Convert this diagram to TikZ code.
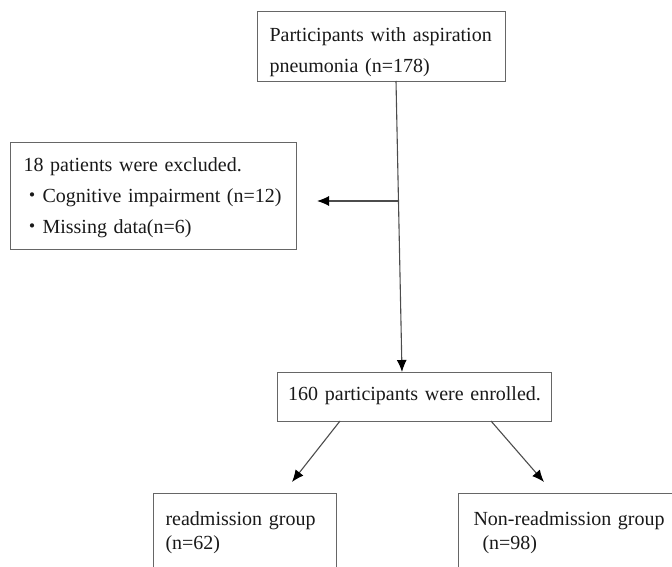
\documentclass[tikz,border=0pt]{standalone}
\usepackage{fontspec}
\setmainfont{Liberation Serif}
\newfontfamily\cjk{Noto Sans CJK JP}
\usetikzlibrary{arrows.meta}

\begin{document}
\begin{tikzpicture}[x=1pt,y=1pt]
			\tikzstyle{every node}+=[inner ysep=0pt, anchor=north west, text=black!90]
			\tikzstyle{box}=[draw=black!60, line width=1.1pt, align=left, font=\fontsize{20}{31}\selectfont]
			\tikzstyle{groupbox}=[box, font=\fontsize{20}{24}\selectfont, text height=32pt, text depth=80pt]
			\tikzstyle{arr}=[draw=black!70, line width=1.1pt, -{Latex[length=12pt,width=10pt,color=black]}]
			\useasboundingbox (0,0) rectangle (672,-567);
			\clip (0,0) rectangle (672,-567);
			\node [box, inner xsep=12pt, text width=224pt, text height=30pt, text depth=40pt] (top) at (257,-11) {Participants with aspiration\\pneumonia (n=178)};
			\node [box, inner xsep=13pt, text width=260pt, text height=29pt, text depth=78pt] (excl) at (10,-142) {18 patients were excluded.\\\hspace*{-1pt}{\cjk ・}Cognitive impairment (n=12)\\\hspace*{-1pt}{\cjk ・}Missing data(n=6)};
			\node [box, align=center, inner xsep=0pt, text width=274pt, text height=28pt, text depth=21pt] (enrol) at (277,-372) {160 participants were enrolled.};
			\node [groupbox, inner xsep=12pt, text width=159pt] (readm) at (153,-493) {readmission group\\(n=62)};
			\node [groupbox, inner xsep=15pt, text width=200pt] (nonreadm) at (458,-493) {Non-readmission group\\\hspace*{9pt}(n=98)};
			\coordinate (stem) at (396,-81);
			\coordinate (branch) at (398,-201);
			\coordinate (stemtip) at (402,-372);
			\coordinate (excltip) at (317,-201);
			\coordinate (lfoot) at (340,-421);
			\coordinate (ltip) at (292,-482);
			\coordinate (rfoot) at (491,-421);
			\coordinate (rtip) at (544,-482);
			\draw [arr] (stem) -- (stemtip);
			\draw [arr] (branch) -- (excltip);
			\draw [arr] (lfoot) -- (ltip);
			\draw [arr] (rfoot) -- (rtip);
		\end{tikzpicture}
\end{document}
